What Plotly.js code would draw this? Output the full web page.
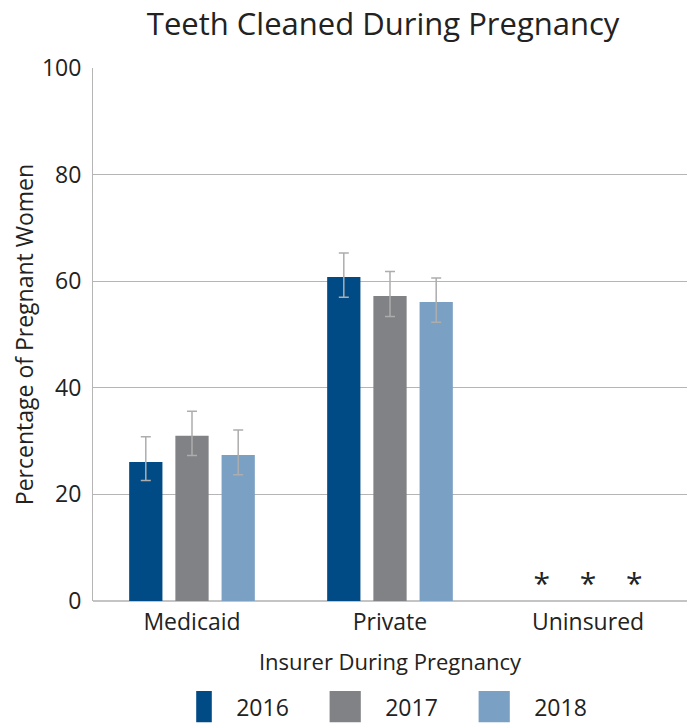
<!DOCTYPE html>
<html>
<head>
<meta charset="utf-8">
<script src="https://cdn.plot.ly/plotly-3.0.1.min.js"></script>
<style>html,body{margin:0;padding:0;background:#fff;}#chart{width:694px;height:723px;}</style>
</head>
<body>
<div id="chart"></div>
<script>
var categories = ['Medicaid', 'Private', 'Uninsured'];
var years = ['2016', '2017', '2018'];
var values2016 = [26.1, 60.8, null];
var values2017 = [31.0, 57.2, null];
var values2018 = [27.4, 56.1, null];
var upper2016 = [30.8, 65.3, null];
var lower2016 = [22.6, 57.0, null];
var upper2017 = [35.6, 61.8, null];
var lower2017 = [27.3, 53.4, null];
var upper2018 = [32.1, 60.6, null];
var lower2018 = [23.7, 52.3, null];
var suppressedY = [null, null, 0];
var suppressedText = ['', '', '*'];
var colors = ['#004a86', '#808285', '#7aa0c4'];

var vals = [values2016, values2017, values2018];
var ups = [upper2016, upper2017, upper2018];
var los = [lower2016, lower2017, lower2018];

var font = '"Open Sans", "Noto Sans", sans-serif';
var traces = years.map(function (yr, i) {
  var v = vals[i];
  return {
    type: 'bar',
    name: yr,
    x: categories,
    y: v,
    offsetgroup: yr,
    marker: {color: colors[i]},
    error_y: {
      type: 'data',
      symmetric: false,
      array: v.map(function (d, k) { return d === null ? 0 : ups[i][k] - d; }),
      arrayminus: v.map(function (d, k) { return d === null ? 0 : d - los[i][k]; }),
      color: '#adadad',
      thickness: 1.5,
      width: 5,
      visible: true
    }
  };
});
years.forEach(function (yr, i) {
  traces.push({
    type: 'scatter',
    mode: 'text',
    x: categories,
    y: suppressedY,
    text: suppressedText,
    offsetgroup: yr,
    textposition: 'top center',
    textfont: {family: font, size: 30, color: '#222'},
    cliponaxis: false,
    showlegend: false,
    hoverinfo: 'skip'
  });
});

var layout = {
  width: 694,
  height: 723,
  margin: {l: 93, r: 7, t: 68, b: 122, autoexpand: false},
  paper_bgcolor: '#ffffff',
  plot_bgcolor: '#ffffff',
  font: {family: font, color: '#222222'},
  title: {text: 'Teeth Cleaned During Pregnancy', font: {family: font, size: 31, color: '#222222'}, x: 0.552, xanchor: 'center', y: 0.966, yanchor: 'middle'},
  barmode: 'group',
  scattermode: 'group',
  bargap: 0.30,
  scattergap: 0.30,
  bargroupgap: 0.28,
  xaxis: {
    showline: false,
    ticks: '',
    automargin: false,
    ticklabelstandoff: 5,
    tickfont: {family: font, size: 23, color: '#222'},
    title: {text: 'Insurer During Pregnancy', font: {family: font, size: 22, color: '#222'}, standoff: 18}
  },
  yaxis: {
    range: [0, 100],
    dtick: 20,
    automargin: false,
    showline: true,
    linecolor: '#b5b5b5',
    linewidth: 1,
    gridcolor: '#b5b5b5',
    gridwidth: 1,
    zeroline: true,
    zerolinecolor: '#c4c4c4',
    zerolinewidth: 2,
    ticks: '',
    ticklabelstandoff: 6,
    tickfont: {family: font, size: 23, color: '#222'},
    title: {text: 'Percentage of Pregnant Women', font: {family: font, size: 23, color: '#222'}, standoff: 1}
  },
  legend: {
    orientation: 'h',
    x: 0.55,
    xanchor: 'center',
    y: -0.158,
    yanchor: 'top',
    font: {family: font, size: 23, color: '#222'},
    entrywidth: 104,
    entrywidthmode: 'pixels',
    traceorder: 'normal'
  },
  showlegend: true
};

Plotly.newPlot('chart', traces, layout, {displayModeBar: false, staticPlot: true}).then(function (gd) {
  gd.querySelectorAll('.legend .legendpoints path').forEach(function (p) {
    p.setAttribute('transform', 'scale(2.6)');
  });
});
</script>
</body>
</html>
